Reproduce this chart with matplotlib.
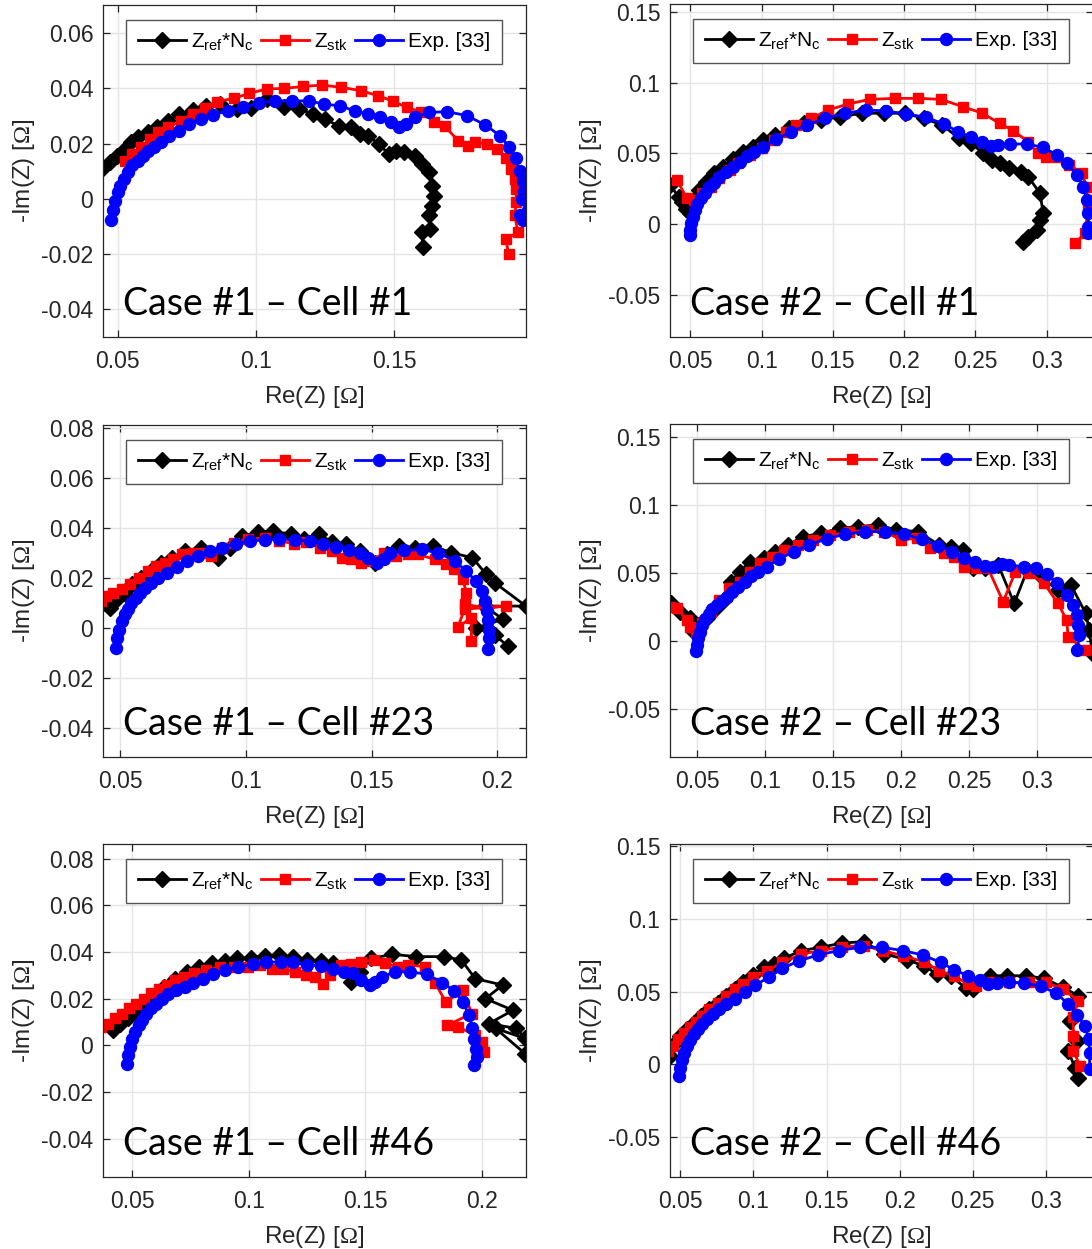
import numpy as np
import matplotlib
matplotlib.use('Agg')
import matplotlib.pyplot as plt
from matplotlib.ticker import FuncFormatter

plt.rcParams['font.family'] = ['Liberation Sans', 'DejaVu Sans']
plt.rcParams['axes.unicode_minus'] = False
plt.rcParams['mathtext.fontset'] = 'custom'
plt.rcParams['mathtext.rm'] = 'Liberation Sans'
plt.rcParams['mathtext.it'] = 'Liberation Sans:italic'
plt.rcParams['mathtext.sf'] = 'Liberation Serif'   # used only for the Ω in axis labels

# ---- data: (Re(Z), -Im(Z)) in ohm ----
# Case #1 - Cell #1
ref_c1_1 = np.array([(0.0444, 0.0108), (0.0471, 0.0133), (0.0496, 0.0157), (0.0524, 0.0181), (0.0546, 0.0207),
                     (0.0571, 0.0223), (0.0608, 0.0241), (0.0643, 0.0259), (0.0681, 0.0283), (0.0721, 0.0307),
                     (0.0771, 0.0323), (0.0820, 0.0335), (0.0870, 0.0343), (0.0933, 0.0325), (0.0983, 0.0328),
                     (0.1039, 0.0361), (0.1101, 0.0331), (0.1157, 0.0325), (0.1207, 0.0307), (0.1251, 0.0289),
                     (0.1301, 0.0263), (0.1344, 0.0259), (0.1375, 0.0235), (0.1407, 0.0229), (0.1444, 0.0199),
                     (0.1481, 0.0163), (0.1506, 0.0175), (0.1537, 0.0169), (0.1575, 0.0157), (0.1600, 0.0127),
                     (0.1625, 0.0096), (0.1637, 0.0048), (0.1643, 0.0012), (0.1637, -0.0024), (0.1625, -0.0060),
                     (0.1631, -0.0108), (0.1600, -0.0121), (0.1606, -0.0175)])
stk_c1_1 = np.array([(0.0527, 0.0139), (0.0552, 0.0163), (0.0584, 0.0187), (0.0615, 0.0217), (0.0646, 0.0241),
                     (0.0683, 0.0259), (0.0727, 0.0283), (0.0771, 0.0307), (0.0814, 0.0328), (0.0858, 0.0352),
                     (0.0920, 0.0364), (0.0976, 0.0382), (0.1039, 0.0398), (0.1101, 0.0400), (0.1170, 0.0407),
                     (0.1238, 0.0412), (0.1309, 0.0404), (0.1379, 0.0392), (0.1441, 0.0374), (0.1498, 0.0353),
                     (0.1547, 0.0331), (0.1596, 0.0316), (0.1646, 0.0280), (0.1683, 0.0263), (0.1733, 0.0211),
                     (0.1768, 0.0193), (0.1793, 0.0205), (0.1837, 0.0199), (0.1874, 0.0181), (0.1905, 0.0147),
                     (0.1924, 0.0108), (0.1937, 0.0072), (0.1943, 0.0036), (0.1943, -0.0012), (0.1937, -0.0060),
                     (0.1949, -0.0121), (0.1905, -0.0145), (0.1915, -0.0199)])
exp_c1_1 = np.array([(0.0474, -0.0078), (0.0484, -0.0039), (0.0490, -0.0006), (0.0499, 0.0024), (0.0509, 0.0048),
                     (0.0521, 0.0072), (0.0536, 0.0096), (0.0552, 0.0121), (0.0571, 0.0139), (0.0590, 0.0157),
                     (0.0608, 0.0172), (0.0631, 0.0187), (0.0656, 0.0205), (0.0686, 0.0229), (0.0721, 0.0247),
                     (0.0758, 0.0271), (0.0802, 0.0289), (0.0845, 0.0304), (0.0898, 0.0319), (0.0954, 0.0331),
                     (0.1010, 0.0347), (0.1070, 0.0355), (0.1130, 0.0355), (0.1192, 0.0355), (0.1247, 0.0343),
                     (0.1304, 0.0337), (0.1357, 0.0319), (0.1407, 0.0307), (0.1450, 0.0295), (0.1488, 0.0280),
                     (0.1519, 0.0259), (0.1544, 0.0271), (0.1575, 0.0295), (0.1625, 0.0313), (0.1693, 0.0316),
                     (0.1765, 0.0301), (0.1830, 0.0268), (0.1884, 0.0229), (0.1918, 0.0187), (0.1940, 0.0147),
                     (0.1955, 0.0102), (0.1968, 0.0066), (0.1970, 0.0030), (0.1965, 0.0000), (0.1986, -0.0042),
                     (0.1955, -0.0060), (0.1968, -0.0078)])

# Case #2 - Cell #1
ref_c2_1 = np.array([(0.0357, 0.0277), (0.0420, 0.0190), (0.0470, 0.0110), (0.0440, 0.0160), (0.0500, 0.0080),
                     (0.0524, 0.0172), (0.0560, 0.0242), (0.0607, 0.0301), (0.0667, 0.0360), (0.0727, 0.0407),
                     (0.0799, 0.0458), (0.0870, 0.0512), (0.0942, 0.0548), (0.1013, 0.0595), (0.1097, 0.0630),
                     (0.1193, 0.0677), (0.1300, 0.0712), (0.1419, 0.0736), (0.1551, 0.0759), (0.1706, 0.0783),
                     (0.1861, 0.0783), (0.2004, 0.0783), (0.2136, 0.0747), (0.2267, 0.0700), (0.2387, 0.0606),
                     (0.2470, 0.0571), (0.2554, 0.0500), (0.2614, 0.0454), (0.2674, 0.0430), (0.2733, 0.0395),
                     (0.2817, 0.0371), (0.2871, 0.0335), (0.2953, 0.0218), (0.2976, 0.0077), (0.2953, 0.0030),
                     (0.2930, -0.0040), (0.2871, -0.0087), (0.2835, -0.0123)])
stk_c2_1 = np.array([(0.0404, 0.0313), (0.0476, 0.0183), (0.0524, 0.0172), (0.0584, 0.0219), (0.0643, 0.0266),
                     (0.0703, 0.0324), (0.0775, 0.0383), (0.0834, 0.0430), (0.0918, 0.0489), (0.1001, 0.0536),
                     (0.1085, 0.0595), (0.1169, 0.0653), (0.1240, 0.0700), (0.1348, 0.0747), (0.1467, 0.0806),
                     (0.1606, 0.0848), (0.1758, 0.0881), (0.1933, 0.0888), (0.2100, 0.0888), (0.2260, 0.0881),
                     (0.2414, 0.0828), (0.2543, 0.0786), (0.2672, 0.0711), (0.2766, 0.0659), (0.2871, 0.0582),
                     (0.2936, 0.0500), (0.2995, 0.0477), (0.3071, 0.0472), (0.3160, 0.0420), (0.3246, 0.0359),
                     (0.3281, 0.0265), (0.3293, 0.0124), (0.3269, -0.0063), (0.3199, -0.0134)])
exp_c2_1 = np.array([(0.0495, -0.0075), (0.0500, -0.0040), (0.0505, 0.0007), (0.0517, 0.0054), (0.0531, 0.0101),
                     (0.0548, 0.0141), (0.0572, 0.0183), (0.0603, 0.0223), (0.0631, 0.0261), (0.0667, 0.0294),
                     (0.0703, 0.0331), (0.0751, 0.0371), (0.0799, 0.0407), (0.0846, 0.0442), (0.0894, 0.0482),
                     (0.0949, 0.0512), (0.1013, 0.0548), (0.1104, 0.0599), (0.1204, 0.0653), (0.1319, 0.0700),
                     (0.1448, 0.0747), (0.1587, 0.0783), (0.1730, 0.0806), (0.1873, 0.0799), (0.2016, 0.0778),
                     (0.2155, 0.0754), (0.2279, 0.0707), (0.2379, 0.0653), (0.2470, 0.0613), (0.2546, 0.0583),
                     (0.2609, 0.0555), (0.2661, 0.0559), (0.2745, 0.0566), (0.2860, 0.0566), (0.2972, 0.0543),
                     (0.3072, 0.0489), (0.3141, 0.0430), (0.3211, 0.0347), (0.3258, 0.0265), (0.3281, 0.0171),
                     (0.3293, 0.0077), (0.3293, -0.0017), (0.3293, -0.0063)])

# Case #1 - Cell #23
ref_c1_23 = np.array([(0.0432, 0.0100), (0.0459, 0.0080), (0.0486, 0.0114), (0.0514, 0.0140), (0.0548, 0.0174),
                      (0.0582, 0.0201), (0.0623, 0.0227), (0.0664, 0.0261), (0.0706, 0.0281), (0.0760, 0.0308),
                      (0.0822, 0.0321), (0.0890, 0.0281), (0.0938, 0.0321), (0.0986, 0.0368), (0.1048, 0.0384),
                      (0.1109, 0.0388), (0.1178, 0.0375), (0.1233, 0.0355), (0.1292, 0.0375), (0.1342, 0.0344),
                      (0.1397, 0.0335), (0.1452, 0.0308), (0.1514, 0.0261), (0.1562, 0.0294), (0.1610, 0.0328),
                      (0.1671, 0.0321), (0.1744, 0.0328), (0.1817, 0.0301), (0.1901, 0.0281), (0.1956, 0.0214),
                      (0.1989, 0.0181), (0.2114, 0.0087), (0.1950, 0.0087), (0.2022, 0.0034), (0.1917, 0.0000),
                      (0.1990, -0.0030), (0.2042, -0.0073)])
stk_c1_23 = np.array([(0.0425, 0.0107), (0.0445, 0.0127), (0.0473, 0.0140), (0.0507, 0.0154), (0.0541, 0.0174),
                      (0.0575, 0.0201), (0.0610, 0.0227), (0.0644, 0.0248), (0.0678, 0.0261), (0.0712, 0.0274),
                      (0.0747, 0.0294), (0.0788, 0.0301), (0.0829, 0.0301), (0.0863, 0.0288), (0.0904, 0.0321),
                      (0.0952, 0.0341), (0.1007, 0.0355), (0.1075, 0.0361), (0.1133, 0.0348), (0.1192, 0.0337),
                      (0.1240, 0.0344), (0.1295, 0.0321), (0.1342, 0.0308), (0.1384, 0.0281), (0.1418, 0.0274),
                      (0.1459, 0.0261), (0.1500, 0.0268), (0.1548, 0.0301), (0.1596, 0.0288), (0.1644, 0.0294),
                      (0.1685, 0.0294), (0.1753, 0.0274), (0.1795, 0.0254), (0.1829, 0.0234), (0.1863, 0.0194),
                      (0.1877, 0.0140), (0.1870, 0.0094), (0.1956, 0.0080), (0.2036, 0.0087), (0.1870, 0.0075),
                      (0.1843, 0.0003), (0.1897, 0.0040), (0.1897, -0.0053)])
exp_c1_23 = np.array([(0.0484, -0.0083), (0.0489, -0.0040), (0.0497, -0.0007), (0.0507, 0.0027), (0.0518, 0.0054),
                      (0.0530, 0.0076), (0.0544, 0.0100), (0.0562, 0.0120), (0.0579, 0.0140), (0.0599, 0.0161),
                      (0.0623, 0.0181), (0.0651, 0.0201), (0.0685, 0.0221), (0.0726, 0.0244), (0.0767, 0.0268),
                      (0.0808, 0.0288), (0.0856, 0.0308), (0.0904, 0.0321), (0.0959, 0.0337), (0.1018, 0.0348),
                      (0.1075, 0.0352), (0.1133, 0.0357), (0.1195, 0.0352), (0.1254, 0.0348), (0.1306, 0.0337),
                      (0.1360, 0.0324), (0.1411, 0.0310), (0.1452, 0.0298), (0.1486, 0.0281), (0.1521, 0.0261),
                      (0.1548, 0.0277), (0.1575, 0.0298), (0.1630, 0.0310), (0.1699, 0.0314), (0.1763, 0.0301),
                      (0.1832, 0.0268), (0.1877, 0.0227), (0.1915, 0.0187), (0.1938, 0.0147), (0.1952, 0.0107),
                      (0.1959, 0.0067), (0.1963, 0.0033), (0.1966, -0.0007), (0.1966, -0.0040), (0.1963, -0.0087)])

# Case #2 - Cell #23
ref_c2_23 = np.array([(0.0308, 0.0276), (0.0375, 0.0214), (0.0450, 0.0165), (0.0475, 0.0067), (0.0512, 0.0116),
                      (0.0575, 0.0165), (0.0637, 0.0239), (0.0700, 0.0300), (0.0750, 0.0436), (0.0812, 0.0510),
                      (0.0887, 0.0584), (0.0988, 0.0608), (0.1075, 0.0658), (0.1168, 0.0707), (0.1275, 0.0768),
                      (0.1412, 0.0793), (0.1550, 0.0830), (0.1683, 0.0842), (0.1825, 0.0855), (0.1962, 0.0818),
                      (0.2125, 0.0805), (0.2275, 0.0707), (0.2362, 0.0695), (0.2450, 0.0670), (0.2525, 0.0534),
                      (0.2612, 0.0534), (0.2712, 0.0559), (0.2829, 0.0276), (0.2925, 0.0522), (0.3037, 0.0461),
                      (0.3150, 0.0374), (0.3245, 0.0412), (0.3355, 0.0202), (0.3380, 0.0079), (0.3404, -0.0093)])
stk_c2_23 = np.array([(0.0300, 0.0251), (0.0350, 0.0239), (0.0425, 0.0153), (0.0450, 0.0103), (0.0488, 0.0067),
                      (0.0537, 0.0128), (0.0600, 0.0214), (0.0662, 0.0300), (0.0737, 0.0387), (0.0812, 0.0436),
                      (0.0887, 0.0510), (0.0963, 0.0571), (0.1050, 0.0621), (0.1137, 0.0670), (0.1237, 0.0707),
                      (0.1350, 0.0744), (0.1475, 0.0781), (0.1613, 0.0800), (0.1750, 0.0818), (0.1875, 0.0805),
                      (0.2000, 0.0744), (0.2112, 0.0756), (0.2212, 0.0682), (0.2313, 0.0645), (0.2388, 0.0621),
                      (0.2462, 0.0547), (0.2550, 0.0534), (0.2637, 0.0534), (0.2748, 0.0288), (0.2838, 0.0510),
                      (0.2938, 0.0498), (0.3048, 0.0424), (0.3151, 0.0276), (0.3214, 0.0153), (0.3226, 0.0030),
                      (0.3348, -0.0069)])
exp_c2_23 = np.array([(0.0492, -0.0076), (0.0500, -0.0032), (0.0508, 0.0017), (0.0520, 0.0067), (0.0537, 0.0116),
                      (0.0557, 0.0158), (0.0583, 0.0195), (0.0612, 0.0232), (0.0645, 0.0264), (0.0683, 0.0296),
                      (0.0720, 0.0325), (0.0757, 0.0362), (0.0800, 0.0399), (0.0850, 0.0436), (0.0895, 0.0478),
                      (0.0950, 0.0510), (0.1012, 0.0547), (0.1100, 0.0603), (0.1208, 0.0658), (0.1320, 0.0707),
                      (0.1450, 0.0751), (0.1583, 0.0786), (0.1730, 0.0805), (0.1880, 0.0805), (0.2020, 0.0786),
                      (0.2155, 0.0749), (0.2268, 0.0702), (0.2375, 0.0658), (0.2462, 0.0613), (0.2542, 0.0584),
                      (0.2612, 0.0554), (0.2675, 0.0547), (0.2737, 0.0564), (0.2788, 0.0559), (0.2900, 0.0547),
                      (0.2988, 0.0534), (0.3070, 0.0490), (0.3142, 0.0424), (0.3217, 0.0337), (0.3262, 0.0264),
                      (0.3287, 0.0190), (0.3300, 0.0116), (0.3306, 0.0042), (0.3294, -0.0069)])

# Case #1 - Cell #46
ref_c1_46 = np.array([(0.0419, 0.0064), (0.0448, 0.0093), (0.0481, 0.0117), (0.0515, 0.0143), (0.0552, 0.0172),
                      (0.0593, 0.0208), (0.0637, 0.0251), (0.0685, 0.0286), (0.0736, 0.0315), (0.0788, 0.0337),
                      (0.0840, 0.0351), (0.0899, 0.0361), (0.0951, 0.0372), (0.1010, 0.0375), (0.1069, 0.0384),
                      (0.1131, 0.0387), (0.1190, 0.0377), (0.1249, 0.0365), (0.1308, 0.0361), (0.1362, 0.0351),
                      (0.1409, 0.0322), (0.1439, 0.0272), (0.1475, 0.0315), (0.1524, 0.0372), (0.1616, 0.0390),
                      (0.1719, 0.0380), (0.1838, 0.0380), (0.1912, 0.0365), (0.1971, 0.0286), (0.2089, 0.0258),
                      (0.2015, 0.0200), (0.2133, 0.0150), (0.2030, 0.0093), (0.2148, 0.0072), (0.2185, 0.0029),
                      (0.2059, 0.0072), (0.2185, -0.0036)])
stk_c1_46 = np.array([(0.0367, 0.0079), (0.0397, 0.0093), (0.0426, 0.0115), (0.0456, 0.0136), (0.0485, 0.0158),
                      (0.0515, 0.0179), (0.0549, 0.0200), (0.0581, 0.0222), (0.0614, 0.0243), (0.0648, 0.0258),
                      (0.0685, 0.0279), (0.0722, 0.0294), (0.0766, 0.0308), (0.0818, 0.0322), (0.0877, 0.0337),
                      (0.0936, 0.0337), (0.0995, 0.0337), (0.1047, 0.0344), (0.1099, 0.0329), (0.1146, 0.0329),
                      (0.1199, 0.0315), (0.1246, 0.0301), (0.1283, 0.0294), (0.1320, 0.0262), (0.1350, 0.0301),
                      (0.1394, 0.0344), (0.1439, 0.0347), (0.1483, 0.0358), (0.1535, 0.0365), (0.1586, 0.0351),
                      (0.1638, 0.0337), (0.1682, 0.0344), (0.1756, 0.0337), (0.1800, 0.0265), (0.1845, 0.0186),
                      (0.1919, 0.0236), (0.1956, 0.0136), (0.1852, 0.0086), (0.1897, 0.0079), (0.1971, 0.0043),
                      (0.2000, 0.0014), (0.2007, -0.0029)])
exp_c1_46 = np.array([(0.0475, -0.0082), (0.0481, -0.0043), (0.0490, -0.0007), (0.0500, 0.0026), (0.0512, 0.0057),
                      (0.0527, 0.0086), (0.0541, 0.0110), (0.0559, 0.0133), (0.0581, 0.0158), (0.0603, 0.0179),
                      (0.0629, 0.0200), (0.0655, 0.0219), (0.0688, 0.0236), (0.0725, 0.0251), (0.0759, 0.0268),
                      (0.0803, 0.0286), (0.0847, 0.0304), (0.0899, 0.0322), (0.0955, 0.0334), (0.1017, 0.0348),
                      (0.1072, 0.0355), (0.1136, 0.0358), (0.1190, 0.0355), (0.1249, 0.0344), (0.1308, 0.0341),
                      (0.1362, 0.0329), (0.1409, 0.0315), (0.1446, 0.0308), (0.1483, 0.0279), (0.1520, 0.0258),
                      (0.1542, 0.0272), (0.1572, 0.0294), (0.1628, 0.0315), (0.1693, 0.0315), (0.1764, 0.0304),
                      (0.1830, 0.0269), (0.1882, 0.0232), (0.1919, 0.0186), (0.1944, 0.0129), (0.1959, 0.0074),
                      (0.1968, 0.0026), (0.1974, -0.0014), (0.1978, -0.0050), (0.1968, -0.0086)])

# Case #2 - Cell #46
ref_c2_46 = np.array([(0.0430, 0.0057), (0.0465, 0.0149), (0.0500, 0.0195), (0.0547, 0.0241), (0.0593, 0.0287),
                      (0.0640, 0.0333), (0.0698, 0.0379), (0.0756, 0.0425), (0.0814, 0.0471), (0.0872, 0.0517),
                      (0.0930, 0.0563), (0.1000, 0.0614), (0.1070, 0.0667), (0.1140, 0.0690), (0.1209, 0.0729),
                      (0.1326, 0.0782), (0.1461, 0.0805), (0.1605, 0.0834), (0.1756, 0.0844), (0.1896, 0.0759),
                      (0.2047, 0.0720), (0.2163, 0.0678), (0.2256, 0.0621), (0.2349, 0.0609), (0.2454, 0.0522),
                      (0.2500, 0.0517), (0.2617, 0.0609), (0.2733, 0.0609), (0.2861, 0.0609), (0.2988, 0.0591),
                      (0.3116, 0.0529), (0.3221, 0.0471), (0.3163, 0.0299), (0.3209, 0.0161), (0.3152, 0.0092),
                      (0.3197, -0.0023), (0.3220, -0.0092)])
stk_c2_46 = np.array([(0.0419, 0.0092), (0.0453, 0.0126), (0.0488, 0.0172), (0.0523, 0.0214), (0.0570, 0.0253),
                      (0.0605, 0.0292), (0.0651, 0.0333), (0.0698, 0.0379), (0.0756, 0.0425), (0.0814, 0.0471),
                      (0.0872, 0.0517), (0.0930, 0.0552), (0.1000, 0.0598), (0.1093, 0.0644), (0.1198, 0.0701),
                      (0.1326, 0.0759), (0.1465, 0.0782), (0.1605, 0.0809), (0.1756, 0.0816), (0.1884, 0.0782),
                      (0.2023, 0.0747), (0.2163, 0.0706), (0.2267, 0.0644), (0.2372, 0.0609), (0.2465, 0.0552),
                      (0.2523, 0.0540), (0.2628, 0.0563), (0.2744, 0.0563), (0.2884, 0.0563), (0.3000, 0.0563),
                      (0.3116, 0.0517), (0.3221, 0.0437), (0.3186, 0.0322), (0.3186, 0.0195), (0.3186, 0.0092),
                      (0.3233, -0.0011)])
exp_c2_46 = np.array([(0.0493, -0.0080), (0.0500, -0.0023), (0.0512, 0.0030), (0.0528, 0.0080), (0.0547, 0.0126),
                      (0.0570, 0.0168), (0.0593, 0.0207), (0.0623, 0.0241), (0.0651, 0.0276), (0.0686, 0.0310),
                      (0.0721, 0.0345), (0.0763, 0.0379), (0.0814, 0.0414), (0.0872, 0.0448), (0.0942, 0.0494),
                      (0.1012, 0.0545), (0.1105, 0.0598), (0.1198, 0.0660), (0.1314, 0.0713), (0.1442, 0.0752),
                      (0.1582, 0.0782), (0.1726, 0.0805), (0.1879, 0.0805), (0.2023, 0.0782), (0.2158, 0.0752),
                      (0.2279, 0.0701), (0.2372, 0.0651), (0.2465, 0.0609), (0.2547, 0.0582), (0.2605, 0.0552),
                      (0.2663, 0.0559), (0.2744, 0.0563), (0.2849, 0.0559), (0.2965, 0.0536), (0.3070, 0.0490),
                      (0.3151, 0.0414), (0.3210, 0.0338), (0.3268, 0.0264), (0.3291, 0.0172), (0.3298, 0.0080),
                      (0.3298, -0.0034)])

series_labels = [r'Z$_{\mathrm{ref}}$*N$_{\mathrm{c}}$', r'Z$_{\mathrm{stk}}$', 'Exp. [33]']
left_xticks = [0.05, 0.1, 0.15, 0.2]
right_xticks = [0.05, 0.1, 0.15, 0.2, 0.25, 0.3]
left_yticks = [-0.04, -0.02, 0, 0.02, 0.04, 0.06, 0.08]
right_yticks = [-0.05, 0, 0.05, 0.1, 0.15]

DARK = '#262626'


def draw_panel(ax, ref, stk, exp, xlim, ylim, xticks, yticks, title):
    ax.plot(ref[:, 0], ref[:, 1], '-D', color='k', lw=2, ms=8.5, label=series_labels[0])
    ax.plot(stk[:, 0], stk[:, 1], '-s', color='r', lw=2, ms=7.2, label=series_labels[1])
    ax.plot(exp[:, 0], exp[:, 1], '-o', color='b', lw=2, ms=8.6, label=series_labels[2])

    # ticks first, then limits (set_*ticks would otherwise widen the view)
    ax.set_xticks(xticks)
    ax.set_yticks(yticks)
    ax.set_xlim(xlim)
    ax.set_ylim(ylim)
    fmt = FuncFormatter(lambda v, p: '0' if abs(v) < 1e-12 else '%g' % v)
    ax.xaxis.set_major_formatter(fmt)
    ax.yaxis.set_major_formatter(fmt)

    ax.grid(True, color='#e4e4e4', lw=1)
    ax.set_axisbelow(True)
    ax.tick_params(direction='in', top=True, right=True, length=5, width=0.9,
                   labelsize=16.5, colors=DARK)
    ax.tick_params(axis='x', pad=9)
    ax.tick_params(axis='y', pad=7)
    for s in ax.spines.values():
        s.set_color(DARK)
        s.set_linewidth(0.9)

    ax.set_xlabel(r'Re(Z) [$\mathsf{\Omega}$]', fontsize=17.5, color=DARK, labelpad=8)
    ax.set_ylabel(r'-Im(Z) [$\mathsf{\Omega}$]', fontsize=17.5, color=DARK, labelpad=3)

    leg = ax.legend(ncol=3, loc='upper left', bbox_to_anchor=(0.055, 0.955), fontsize=15,
                    handlelength=2.3, handletextpad=0.25, columnspacing=0.35, borderpad=0.55,
                    borderaxespad=0, fancybox=False, framealpha=1, edgecolor='#555555')
    leg.get_frame().set_linewidth(1)

    ax.text(0.048, 0.065, title, transform=ax.transAxes, fontsize=27,
            family=['Lato', 'DejaVu Sans'], color='k')


fig = plt.figure(figsize=(10.92, 12.49), dpi=100)
W, H = 1092, 1249

# axes boxes in pixels: left, top, right, bottom
boxes = [
    (103, 5, 526, 337), (670, 4, 1093, 337),
    (103, 425, 526, 757), (670, 424, 1093, 757),
    (103, 844, 526, 1177), (670, 844, 1093, 1177),
]
axes = []
for l, t, r, b in boxes:
    axes.append(fig.add_axes([l / W, 1 - b / H, (r - l) / W, (b - t) / H]))

draw_panel(axes[0], ref_c1_1, stk_c1_1, exp_c1_1, (0.0446, 0.1978), (-0.05, 0.0702),
           left_xticks, left_yticks, 'Case #1 – Cell #1')
draw_panel(axes[1], ref_c2_1, stk_c2_1, exp_c2_1, (0.0357, 0.3325), (-0.0796, 0.1554),
           right_xticks, right_yticks, 'Case #2 – Cell #1')
draw_panel(axes[2], ref_c1_23, stk_c1_23, exp_c1_23, (0.0432, 0.2114), (-0.0518, 0.0813),
           left_xticks, left_yticks, 'Case #1 – Cell #23')
draw_panel(axes[3], ref_c2_23, stk_c2_23, exp_c2_23, (0.0300, 0.3408), (-0.0857, 0.1599),
           right_xticks, right_yticks, 'Case #2 – Cell #23')
draw_panel(axes[4], ref_c1_46, stk_c1_46, exp_c1_46, (0.0374, 0.2189), (-0.0565, 0.0863),
           left_xticks, left_yticks, 'Case #1 – Cell #46')
draw_panel(axes[5], ref_c2_46, stk_c2_46, exp_c2_46, (0.0430, 0.3321), (-0.0776, 0.1516),
           right_xticks, right_yticks, 'Case #2 – Cell #46')

fig.savefig('out.png', dpi=100)
